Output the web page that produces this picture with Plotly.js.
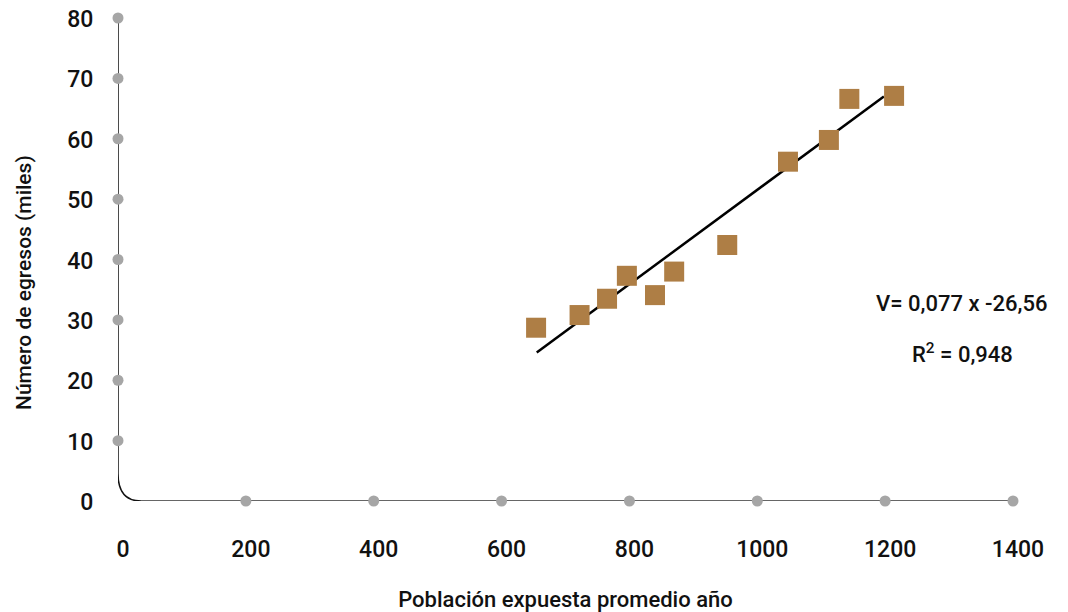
<!DOCTYPE html>
<html>
<head>
<meta charset="utf-8">
<script src="https://cdn.plot.ly/plotly-3.0.1.min.js"></script>
<style>html,body{margin:0;padding:0;background:#fff;}#chart{width:1068px;height:612px;}</style>
</head>
<body>
<div id="chart"></div>
<script>
// Data
const poblacion = [654, 722, 765, 796, 840, 870, 953, 1048, 1112, 1144, 1214];
const egresos   = [28.7, 30.8, 33.5, 37.3, 34.1, 38.0, 42.4, 56.2, 59.8, 66.6, 67.1];
const trendX = [655, 1198];
const trendY = [24.6, 67.0];
const xTicks = [0, 200, 400, 600, 800, 1000, 1200, 1400];
const yTicks = [0, 10, 20, 30, 40, 50, 60, 70, 80];
const xDots = [200, 400, 600, 800, 1000, 1200, 1400];
const yDots = [10, 20, 30, 40, 50, 60, 70, 80];
const ecuacion = "V= 0,077 x -26,56";
const r2 = "R<sup>2</sup> = 0,948";
const yTitle = "Número de egresos (miles)";
const xTitle = "Población expuesta promedio año";

const FONT = "Roboto, 'DejaVu Sans', sans-serif";
const dotColor = "#a6a6a6";
const ML = 118, MR = 55, MT = 18, MB = 111;

const traces = [
  {x: xDots, y: xDots.map(() => 0), mode: "markers", type: "scatter", cliponaxis: false,
   marker: {color: dotColor, size: 11}, hoverinfo: "skip", showlegend: false},
  {x: yDots.map(() => 0), y: yDots, mode: "markers", type: "scatter", cliponaxis: false,
   marker: {color: dotColor, size: 11}, hoverinfo: "skip", showlegend: false},
  {x: trendX, y: trendY, mode: "lines", type: "scatter", cliponaxis: false,
   line: {color: "#000", width: 2.5}, showlegend: false},
  {x: poblacion, y: egresos, mode: "markers", type: "scatter", cliponaxis: false,
   marker: {symbol: "square", color: "#ae7e45", size: 20}, showlegend: false}
];

const layout = {
  width: 1068, height: 612,
  margin: {l: ML, r: MR, t: MT, b: MB},
  paper_bgcolor: "#fff", plot_bgcolor: "#fff",
  font: {family: FONT, color: "#111", weight: 500},
  showlegend: false,
  xaxis: {
    range: [0, 1400], showgrid: false, zeroline: false, showline: false,
    tickvals: xTicks, ticktext: xTicks.map(String),
    ticks: "outside", ticklen: 27, tickcolor: "rgba(0,0,0,0)",
    ticklabelshift: 5,
    tickfont: {family: FONT, size: 23, color: "#111", weight: 500},
    title: {text: xTitle, font: {family: FONT, size: 22, color: "#111", weight: 500}, standoff: 33}
  },
  yaxis: {
    range: [0, 80], showgrid: false, zeroline: false, showline: false,
    tickvals: yTicks, ticktext: yTicks.map(String),
    ticks: "outside", ticklen: 19, tickcolor: "rgba(0,0,0,0)",
    ticklabelshift: 1,
    tickfont: {family: FONT, size: 23, color: "#111", weight: 500}
  },
  shapes: [
    {type: "path", xref: "x", yref: "y", layer: "below",
     path: "M 0,80 L 0,4.6 Q 0,0 36,0", line: {color: "#111", width: 1.5}},
    {type: "line", xref: "x", yref: "y", layer: "below",
     x0: 36, y0: 0, x1: 1400, y1: 0, line: {color: "#666", width: 2}}
  ],
  annotations: [
    {xref: "paper", yref: "paper", x: 961, y: 303.5, text: ecuacion, showarrow: false,
     xanchor: "center", yanchor: "middle",
     font: {family: FONT, size: 22, color: "#111", weight: 500}},
    {xref: "paper", yref: "paper", x: 962, y: 353, text: r2, showarrow: false,
     xanchor: "center", yanchor: "middle",
     font: {family: FONT, size: 22, color: "#111", weight: 500}},
    {xref: "paper", yref: "paper", x: 24, y: 283, text: yTitle, showarrow: false,
     textangle: -90, xanchor: "center", yanchor: "middle",
     font: {family: FONT, size: 21, color: "#111", weight: 500}}
  ]
};
// convert annotation pixel anchors to paper fractions
const pw = 1068 - ML - MR, ph = 612 - MT - MB;
layout.annotations.forEach(a => { a.x = (a.x - ML) / pw; a.y = 1 - (a.y - MT) / ph; });

Plotly.newPlot("chart", traces, layout, {displayModeBar: false, staticPlot: true});
</script>
</body>
</html>
